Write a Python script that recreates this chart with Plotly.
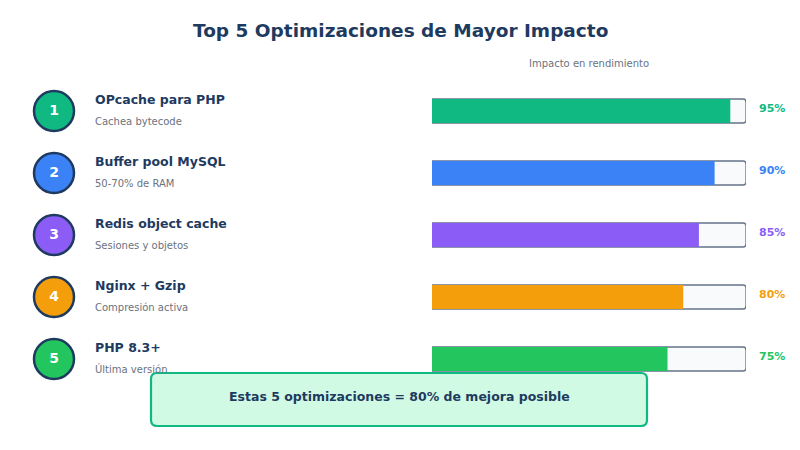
import plotly.graph_objects as go

# ---- data ----
ranks = [1, 2, 3, 4, 5]
titles = ["OPcache para PHP", "Buffer pool MySQL", "Redis object cache", "Nginx + Gzip", "PHP 8.3+"]
subtitles = ["Cachea bytecode", "50-70% de RAM", "Sesiones y objetos", "Compresión activa", "Última versión"]
impact = [95, 90, 85, 80, 75]
colors = ["#10b981", "#3b82f6", "#8b5cf6", "#f59e0b", "#22c55e"]
chart_title = "Top 5 Optimizaciones de Mayor Impacto"
axis_label = "Impacto en rendimiento"
footer = "Estas 5 optimizaciones = 80% de mejora posible"

# ---- layout constants ----
W, H = 800, 450
NAVY = "#1e3a5f"
GRAY = "#6b7280"
FONT = "DejaVu Sans"
row_y = [111 + 62 * i for i in range(len(ranks))]
bar_x0, bar_x1 = 432, 746

fig = go.Figure()

# track (100%)
fig.add_trace(go.Bar(
    x=[100] * len(ranks), y=row_y, orientation="h", width=24,
    marker=dict(color="#f8fafc", line=dict(color="#64748b", width=1.3)),
    xaxis="x2", yaxis="y", hoverinfo="skip", showlegend=False,
))
# filled bars
fig.add_trace(go.Bar(
    x=impact, y=row_y, orientation="h", width=24,
    marker=dict(color=colors, line=dict(width=0)),
    xaxis="x2", yaxis="y", hoverinfo="skip", showlegend=False,
))

# rank circles
fig.add_trace(go.Scatter(
    x=[54] * len(ranks), y=row_y, mode="markers+text",
    marker=dict(size=40, color=colors, line=dict(color=NAVY, width=2.5)),
    text=[str(r) for r in ranks], textposition="middle center",
    textfont=dict(family=FONT, size=14, color="white", weight="bold"),
    hoverinfo="skip", showlegend=False,
))

ann = []
ann.append(dict(x=400, y=30, text=f"<b>{chart_title}</b>", showarrow=False,
                font=dict(family=FONT, size=18.5, color=NAVY), xanchor="center", yanchor="middle"))
ann.append(dict(x=589, y=63, text=axis_label, showarrow=False,
                font=dict(family=FONT, size=10, color=GRAY), xanchor="center", yanchor="middle"))
for i in range(len(ranks)):
    ann.append(dict(x=93, y=row_y[i] - 12, text=f"<b>{titles[i]}</b>", showarrow=False,
                    font=dict(family=FONT, size=12.5, color=NAVY), xanchor="left", yanchor="middle"))
    ann.append(dict(x=93, y=row_y[i] + 10, text=subtitles[i], showarrow=False,
                    font=dict(family=FONT, size=10, color=GRAY), xanchor="left", yanchor="middle"))
    ann.append(dict(x=757, y=row_y[i] - 3, text=f"<b>{impact[i]}%</b>", showarrow=False,
                    font=dict(family=FONT, size=11, color=colors[i]), xanchor="left", yanchor="middle"))
ann.append(dict(x=399, y=396, text=f"<b>{footer}</b>", showarrow=False,
                font=dict(family=FONT, size=12.5, color=NAVY), xanchor="center", yanchor="middle"))

# rounded footer box
x0, x1, y0, y1, r = 151, 647, 373, 426, 6
path = (f"M{x0+r},{y0} L{x1-r},{y0} Q{x1},{y0} {x1},{y0+r} L{x1},{y1-r} Q{x1},{y1} {x1-r},{y1} "
        f"L{x0+r},{y1} Q{x0},{y1} {x0},{y1-r} L{x0},{y0+r} Q{x0},{y0} {x0+r},{y0} Z")
shapes = [dict(type="path", path=path, xref="x", yref="y", fillcolor="#d1fae5",
               line=dict(color="#10b981", width=2.2), layer="above")]

fig.update_layout(
    width=W, height=H, margin=dict(l=0, r=0, t=0, b=0),
    paper_bgcolor="white", plot_bgcolor="white",
    barmode="overlay", barcornerradius=3,
    xaxis=dict(range=[0, W], visible=False, domain=[0, 1], fixedrange=True),
    xaxis2=dict(range=[0, 100], visible=False, domain=[bar_x0 / W, bar_x1 / W], anchor="y"),
    yaxis=dict(range=[H, 0], visible=False, fixedrange=True),
    annotations=ann, shapes=shapes, hovermode=False,
)

fig.write_html("out.html")
